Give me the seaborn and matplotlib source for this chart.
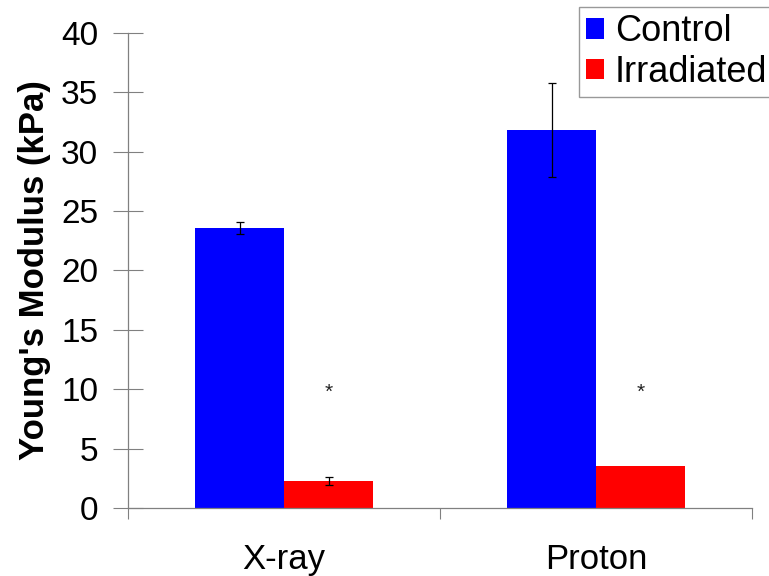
import pandas as pd
import matplotlib.pyplot as plt
import seaborn as sns

groups = ['X-ray', 'Proton']
conditions = ['Control', 'Irradiated']
control = [23.6, 31.8]
irradiated = [2.3, 3.5]
control_err = [0.5, 3.95]
irradiated_err = [0.35, 0.0]
star_level = [9.7, 9.7]

df = pd.DataFrame({
    'group': groups * 2,
    'condition': ['Control'] * 2 + ['Irradiated'] * 2,
    'modulus': control + irradiated,
})
errs = {'Control': control_err, 'Irradiated': irradiated_err}

sns.set_style('white')
plt.rcParams['font.family'] = ['Liberation Sans', 'DejaVu Sans']
plt.rcParams['text.color'] = 'black'
plt.rcParams['axes.labelcolor'] = 'black'
plt.rcParams['xtick.color'] = 'black'
plt.rcParams['ytick.color'] = 'black'

fig = plt.figure(figsize=(7.69, 5.76), dpi=100)
ax = fig.add_axes([0.1665, 0.118, 0.8115, 0.825])

sns.barplot(data=df, x='group', y='modulus', hue='condition', order=groups,
            hue_order=conditions, palette=['#0000ff', '#ff0000'], width=0.57,
            errorbar=None, saturation=1, edgecolor='none', ax=ax)

# error bars and asterisks, placed on the seaborn bars
for cont, cond in zip(ax.containers, conditions):
    for i, bar in enumerate(cont):
        xc = bar.get_x() + bar.get_width() / 2
        if errs[cond][i] > 0:
            ax.errorbar(xc, bar.get_height(), yerr=errs[cond][i], fmt='none',
                        ecolor='black', elinewidth=0.9, capsize=3, capthick=0.9)
        if cond == 'Irradiated':
            ax.text(xc, star_level[i], '*', ha='center', va='center',
                    fontsize=15, color='#222222')

ax.set_xlim(-0.5, 1.5)
ax.set_ylim(0, 40)
ax.set_yticks(range(0, 41, 5))
ax.tick_params(axis='y', direction='inout', length=21, width=0.8, color='#808080',
               labelcolor='black', labelsize=24, pad=11, left=True)
ax.set_xticks([-0.5, 0.5, 1.5], minor=True)
ax.tick_params(axis='x', which='minor', direction='out', length=8, width=0.8,
               color='#808080', bottom=True)
ax.tick_params(axis='x', which='major', length=0, labelsize=25, pad=25,
               labelcolor='black')
ax.set_xlabel('')
ax.set_ylabel("Young's Modulus (kPa)", fontsize=25, fontweight='bold', labelpad=7)

for s in ['top', 'right']:
    ax.spines[s].set_visible(False)
for s in ['left', 'bottom']:
    ax.spines[s].set_color('#808080')
    ax.spines[s].set_linewidth(0.9)

leg = ax.legend(loc='upper left', bbox_to_anchor=(579 / 769, 1 - 7 / 576),
                bbox_transform=fig.transFigure, fontsize=26, frameon=True,
                fancybox=False, edgecolor='#808080', handlelength=0.5,
                handleheight=0.5, handletextpad=0.3, borderpad=0.2,
                labelspacing=0.15, borderaxespad=0)
leg.get_frame().set_linewidth(1.0)

fig.savefig('out.png', dpi=100)
